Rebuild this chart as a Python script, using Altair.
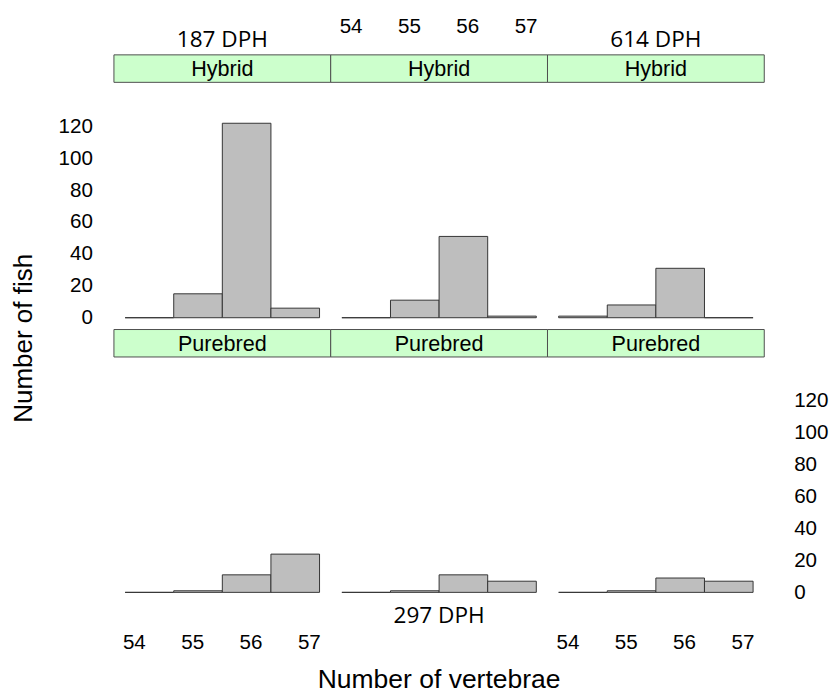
import altair as alt
import pandas as pd

# ---- data ----
vertebrae = [54, 55, 56, 57]
hybrid_187 = [0, 15, 122, 6]
hybrid_297 = [0, 11, 51, 1]
hybrid_614 = [1, 8, 31, 0]
purebred_187 = [0, 1, 11, 24]
purebred_297 = [0, 1, 11, 7]
purebred_614 = [0, 1, 9, 7]
y_ticks = [0, 20, 40, 60, 80, 100, 120]
strip_labels = ["Hybrid", "Purebred"]
age_labels = ["187 DPH", "297 DPH", "614 DPH"]
x_title = "Number of vertebrae"
y_title = "Number of fish"

W, H, STRIP = 221, 280, 28
FONT = "Liberation Sans, Arial, sans-serif"
NARROW = "Liberation Sans Narrow, Arial Narrow, Liberation Sans, sans-serif"
CAL = "Open Sans, Carlito, Lato, sans-serif"


def text_layer(txt, x, y, size, font, angle=0):
    return alt.Chart(pd.DataFrame({"t": [txt]})).mark_text(
        font=font, fontSize=size, align="center", baseline="middle",
        angle=angle, color="black"
    ).encode(text="t:N", x=alt.value(x), y=alt.value(y))


def panel(counts, strip, xaxis=None, yaxis=None, extras=()):
    df = pd.DataFrame({"v": vertebrae, "n": counts})
    df["lo"] = df["v"] - 0.5
    df["hi"] = df["v"] + 0.5
    bars = alt.Chart(df).mark_rect(
        fill="#BEBEBE", stroke="#333333", strokeWidth=1
    ).encode(
        x=alt.X("lo:Q", scale=alt.Scale(domain=[53.27, 57.73], nice=False, zero=False), axis=None),
        x2="hi:Q",
        y=alt.Y("n:Q", scale=alt.Scale(domain=[-7.4, 164.9], nice=False, zero=False), axis=yaxis),
        y2=alt.datum(0),
    )
    labels = alt.Chart(pd.DataFrame({"t": vertebrae})).mark_point(opacity=0).encode(
        x=alt.X("t:Q", scale=alt.Scale(domain=[53.659, 57.375], nice=False, zero=False), axis=xaxis),
    )
    sdf = pd.DataFrame({"s": [strip]})
    strip_rect = alt.Chart(sdf).mark_rect(
        fill="#CCFFCC", stroke="#4D4D4D", strokeWidth=1
    ).encode(x=alt.value(0), x2=alt.value(W), y=alt.value(0), y2=alt.value(STRIP))
    strip_text = alt.Chart(sdf).mark_text(
        font=NARROW, fontSize=22, align="center", baseline="middle", color="black"
    ).encode(text="s:N", x=alt.value(W / 2), y=alt.value(STRIP / 2 + 1))
    layers = [bars, labels, strip_rect, strip_text] + list(extras)
    return alt.layer(*layers).resolve_scale(x="independent").properties(width=W, height=H)


def xax(orient, pad):
    return alt.Axis(values=vertebrae, orient=orient, ticks=False, tickSize=0, domain=False,
                    grid=False, labelPadding=pad, labelFontSize=21, labelFont=FONT,
                    labelColor="black", title=None, labelFlush=False)


def yax(orient, pad):
    return alt.Axis(values=y_ticks, orient=orient, ticks=False, tickSize=0, domain=False,
                    grid=False, labelPadding=pad, labelFontSize=21, labelFont=FONT,
                    labelColor="black", title=None)


tl = panel(hybrid_187, strip_labels[0], yaxis=yax("left", 22), extras=[
    text_layer(age_labels[0], W / 2, -15, 23, CAL),
    text_layer(y_title, -92, 289, 26.5, FONT, angle=270),
])
tm = panel(hybrid_297, strip_labels[0], xaxis=xax("top", 19))
tr = panel(hybrid_614, strip_labels[0], extras=[text_layer(age_labels[2], W / 2, -15, 23, CAL)])
bl = panel(purebred_187, strip_labels[1], xaxis=xax("bottom", 28))
bm = panel(purebred_297, strip_labels[1], extras=[
    text_layer(age_labels[1], W / 2, 292, 23, CAL),
    text_layer(x_title, W / 2, 357, 27, FONT),
])
br = panel(purebred_614, strip_labels[1], xaxis=xax("bottom", 28), yaxis=yax("right", 30))

chart = alt.concat(tl, tm, tr, bl, bm, br, columns=3, spacing=0, bounds="flush").properties(
    padding={"left": 3, "top": 1, "right": 0, "bottom": 5}
).configure_view(stroke=None).configure_axis(grid=False)

chart.save("out.html", embed_options={"renderer": "svg", "actions": False})
